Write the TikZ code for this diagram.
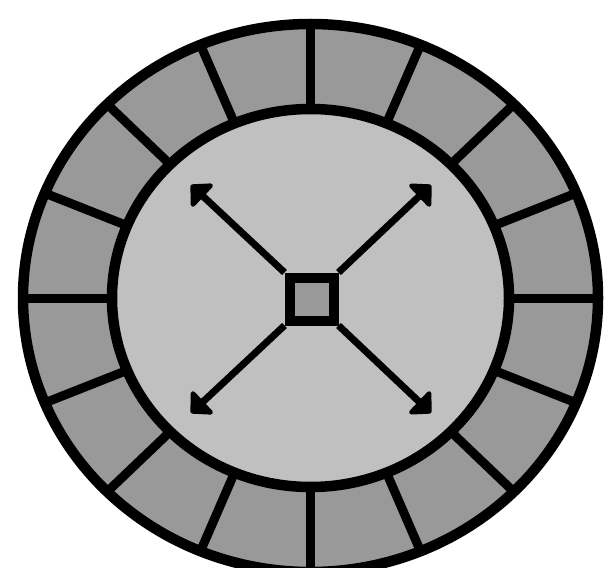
\documentclass[tikz,border=0pt]{standalone}
\usetikzlibrary{arrows.meta}
\definecolor{ringgray}{RGB}{153,153,153}
\definecolor{facegray}{RGB}{192,192,192}
\tikzset{
  rim/.style={line width=10.5pt, draw=black},
  divider/.style={line width=9pt, draw=black},
  spoke/.style={line width=7pt, draw=black, -{Triangle[length=18pt, width=36pt, round]}},
  hub/.style={rectangle, draw=black, line width=10pt, fill=ringgray, minimum width=44pt, minimum height=43pt, inner sep=0pt},
}
\begin{document}
\begin{tikzpicture}[x=1pt,y=-1pt]
\useasboundingbox (0,0) rectangle (607,567);
\fill[white] (0,0) rectangle (607,567);
\clip (0,0) rectangle (607,567);
\coordinate (c) at (310.5,298);
% outer ring
\fill[ringgray] (c) ellipse [x radius=287.5, y radius=274];
\foreach \a in {0,22.5,...,337.5}{
  \draw[divider] ({310.5+198.5*cos(\a)},{298+189*sin(\a)}) -- ({310.5+287.5*cos(\a)},{298+274*sin(\a)});
}
\draw[rim] (c) ellipse [x radius=287.5, y radius=274];
% inner face
\draw[rim, fill=facegray] (c) ellipse [x radius=198.5, y radius=189];
% hub and spokes
\node[hub] (sq) at (311.5,299) {};
\coordinate (tl) at (191,185);
\coordinate (tr) at (431,185);
\coordinate (bl) at (191,413);
\coordinate (br) at (431,413);
\draw[spoke] (sq.north west) -- (tl);
\draw[spoke] (sq.north east) -- (tr);
\draw[spoke] (sq.south west) -- (bl);
\draw[spoke] (sq.south east) -- (br);
\end{tikzpicture}
\end{document}
